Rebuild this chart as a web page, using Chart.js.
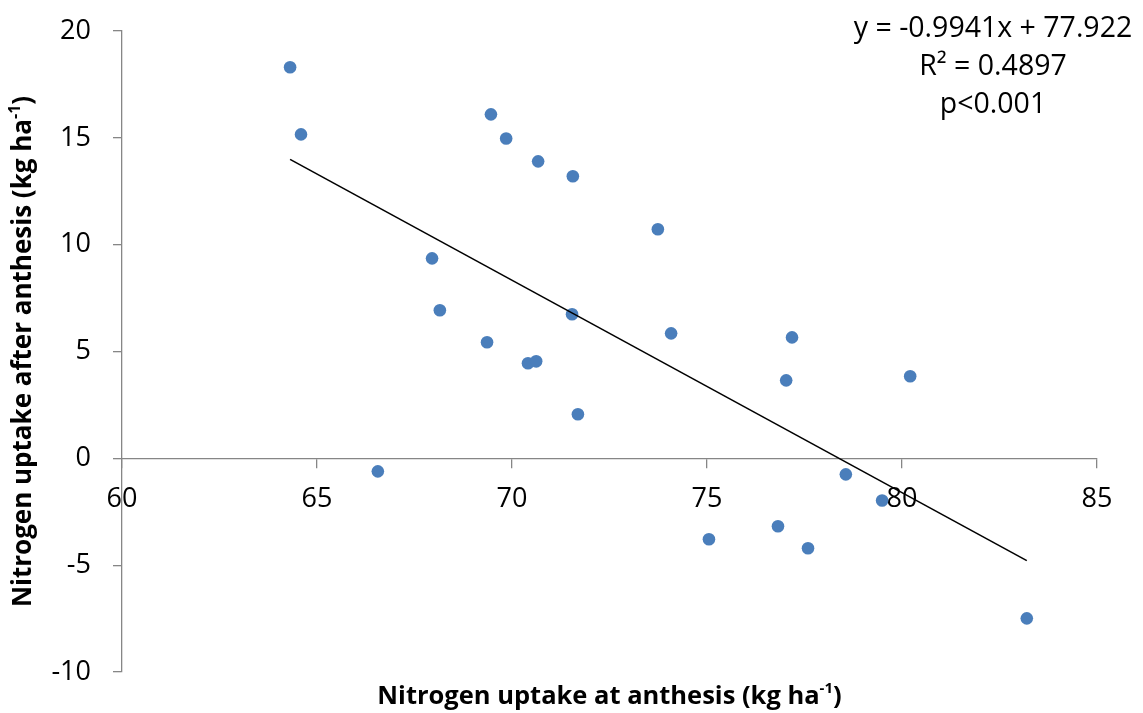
<!DOCTYPE html>
<html>
<head>
<meta charset="utf-8">
<script src="https://cdn.jsdelivr.net/npm/chart.js@4"></script>
<style>
html, body { margin: 0; padding: 0; background: #fff; }
</style>
</head>
<body>
<canvas id="myChart" width="1143" height="713"></canvas>
<script>
// N uptake at anthesis (x) and after anthesis (y), kg/ha
const atAnthesis    = [64.31, 64.59, 69.46, 69.85, 70.67, 71.56, 73.74, 67.95, 68.15, 71.54, 74.08, 77.18, 69.36,
                       70.41, 70.62, 77.03, 80.21, 71.69, 66.56, 78.56, 79.49, 75.05, 76.82, 77.59, 83.20];
const afterAnthesis = [18.30, 15.16, 16.10, 14.97, 13.90, 13.20, 10.72, 9.36, 6.93, 6.74, 5.85, 5.66, 5.43,
                       4.45, 4.54, 3.65, 3.84, 2.06, -0.61, -0.75, -1.97, -3.79, -3.18, -4.21, -7.49];
const xTicks = [60, 65, 70, 75, 80, 85];
const yTicks = [-10, -5, 0, 5, 10, 15, 20];
const slope = -0.9941, intercept = 77.922;
const eqLines = ['y = -0.9941x + 77.922', 'R\u00b2 = 0.4897', 'p<0.001'];

const FONT = '"Open Sans", "DejaVu Sans", sans-serif';
const AXIS_GREY = '#868686';

let points = atAnthesis.map((x, i) => ({x: x, y: afterAnthesis[i]}));
let xMin = Math.min(...atAnthesis), xMax = Math.max(...atAnthesis);
let trend = [{x: xMin, y: slope * xMin + intercept}, {x: xMax, y: slope * xMax + intercept}];

// text with a superscript part, centred on (0,0) of the current transform
function supText(ctx, main, sup, tail, size) {
    let big = 'bold ' + size + 'px ' + FONT;
    let small = 'bold ' + Math.round(size * 0.6) + 'px ' + FONT;
    ctx.font = big;
    let w1 = ctx.measureText(main).width, w3 = ctx.measureText(tail).width;
    ctx.font = small;
    let w2 = ctx.measureText(sup).width;
    let x = -(w1 + w2 + w3) / 2;
    ctx.textAlign = 'left';
    ctx.textBaseline = 'middle';
    ctx.font = big;
    ctx.fillText(main, x, 0);
    ctx.font = small;
    ctx.fillText(sup, x + w1, -size * 0.32);
    ctx.font = big;
    ctx.fillText(tail, x + w1 + w2, 0);
}

const labelsPlugin = {
    id: 'labels',
    afterDraw(chart) {
        let ctx = chart.ctx;
        let area = chart.chartArea;
        ctx.save();
        ctx.fillStyle = '#000';
        // x title
        ctx.save();
        ctx.translate((area.left + area.right) / 2, 697);
        supText(ctx, 'Nitrogen uptake at anthesis (kg ha', '-1', ')', 25.5);
        ctx.restore();
        // y title
        ctx.save();
        ctx.translate(24, (area.top + area.bottom) / 2);
        ctx.rotate(-Math.PI / 2);
        supText(ctx, 'Nitrogen uptake after anthesis (kg ha', '-1', ')', 26);
        ctx.restore();
        // equation
        ctx.font = '28.5px ' + FONT;
        ctx.textAlign = 'center';
        ctx.textBaseline = 'middle';
        eqLines.forEach((t, i) => ctx.fillText(t, 993, 29 + i * 38));
        ctx.restore();
    }
};

Chart.defaults.font.family = FONT;
Chart.defaults.color = '#000';

new Chart(document.getElementById('myChart').getContext('2d'), {
    type: 'scatter',
    data: {
        datasets: [{
            label: 'Trend',
            data: trend,
            showLine: true,
            borderColor: '#000',
            borderWidth: 1.6,
            pointRadius: 0,
            fill: false
        }, {
            label: 'Plots',
            data: points,
            pointRadius: 6.3,
            pointHoverRadius: 6.3,
            backgroundColor: '#4A7EBB',
            borderWidth: 0
        }]
    },
    options: {
        responsive: false,
        animation: false,
        layout: {
            padding: {left: 52, top: 31, right: 46, bottom: 41}
        },
        plugins: {
            legend: {display: false},
            tooltip: {enabled: false}
        },
        scales: {
            x: {
                type: 'linear',
                position: {y: 0},
                min: 60,
                max: 85,
                afterBuildTicks: s => { s.ticks = xTicks.map(v => ({value: v})); },
                ticks: {font: {size: 27}, color: '#000', padding: 16},
                grid: {drawOnChartArea: false, tickLength: 9, color: AXIS_GREY, lineWidth: 1.3},
                border: {color: AXIS_GREY, width: 1.3}
            },
            y: {
                type: 'linear',
                position: 'left',
                min: -10,
                max: 20,
                afterBuildTicks: s => { s.ticks = yTicks.map(v => ({value: v})); },
                afterFit: s => { s.width = 70; s.paddingTop = 0; s.paddingBottom = 0; },
                ticks: {font: {size: 27}, color: '#000', padding: 22},
                grid: {drawOnChartArea: false, tickLength: 9, color: AXIS_GREY, lineWidth: 1.3},
                border: {color: AXIS_GREY, width: 1.3}
            }
        }
    },
    plugins: [labelsPlugin]
});
</script>
</body>
</html>
